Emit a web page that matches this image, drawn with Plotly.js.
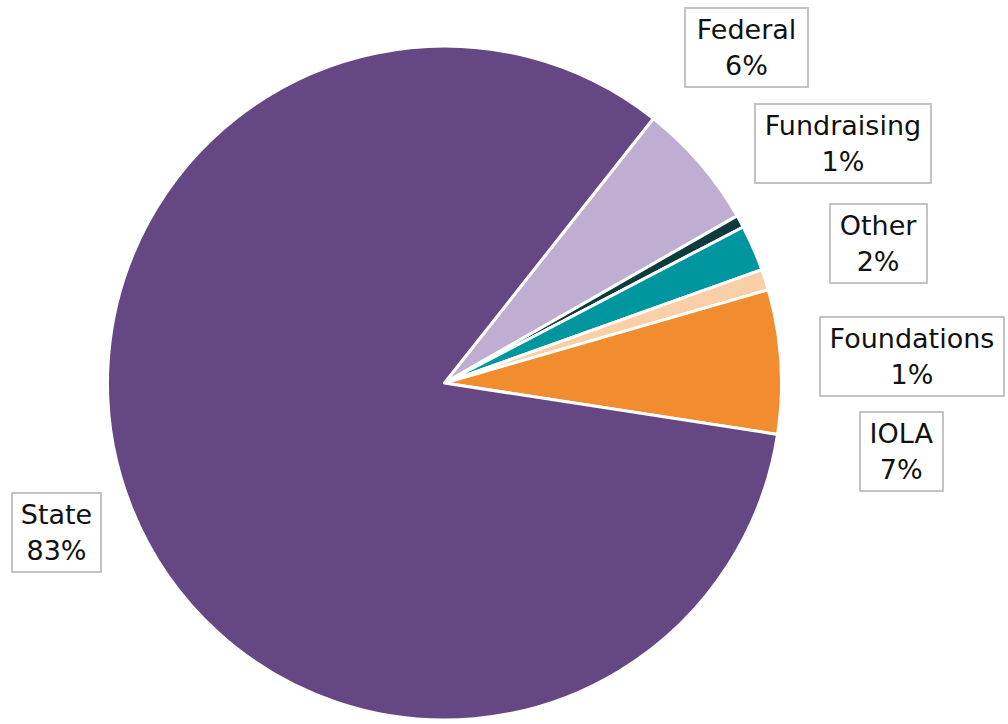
<!DOCTYPE html>
<html>
<head>
<meta charset="utf-8">
<script src="https://cdn.plot.ly/plotly-3.0.1.min.js"></script>
<style>html,body{margin:0;padding:0;background:#fff;}#chart{width:1008px;height:724px;}</style>
</head>
<body>
<div id="chart"></div>
<script>
// Data (clockwise from the State/Federal boundary)
const categories = ["Federal", "Fundraising", "Other", "Foundations", "IOLA", "State"];
const values = [6.1, 0.6, 2.2, 1.0, 6.9, 83.2];
const percentLabels = ["6%", "1%", "2%", "1%", "7%", "83%"];
const colors = ["#BFAED1", "#0E3B3D", "#0096A0", "#F9CFA8", "#F18D2E", "#654883"];

// label box layout (pixels in 1008x724 page)
const boxCenters = [[746.5, 47.5], [843, 143.5], [878.5, 243.5], [912, 356.5], [901.5, 451.5], [56, 532.5]];
const boxWidths = [125, 178, 99, 186, 85, 91];
const W = 1008, H = 724;

const cx = 444.5, cy = 383, r = 337;

const trace = {
  type: "pie",
  labels: categories,
  values: values,
  sort: false,
  direction: "clockwise",
  rotation: 38.3,
  textinfo: "none",
  hoverinfo: "label+percent",
  marker: { colors: colors, line: { color: "#ffffff", width: 3 } },
  domain: { x: [(cx - r) / W, (cx + r) / W], y: [(H - cy - r) / H, (H - cy + r) / H] },
  showlegend: false
};

const annotations = categories.map((c, i) => ({
  xref: "paper", yref: "paper",
  x: boxCenters[i][0] / W, y: 1 - boxCenters[i][1] / H,
  xanchor: "center", yanchor: "middle",
  text: c + "<br>" + percentLabels[i],
  showarrow: false,
  align: "center",
  valign: "middle",
  width: boxWidths[i] - 4,
  height: 77,
  borderpad: 0,
  bordercolor: "#C3C3C3",
  borderwidth: 2,
  bgcolor: "#ffffff",
  font: { family: "DejaVu Sans", size: 27, color: "#111111" }
}));

const layout = {
  width: W, height: H,
  margin: { l: 0, r: 0, t: 0, b: 0 },
  paper_bgcolor: "#ffffff",
  annotations: annotations
};

Plotly.newPlot("chart", [trace], layout, { displayModeBar: false, staticPlot: true });
</script>
</body>
</html>
